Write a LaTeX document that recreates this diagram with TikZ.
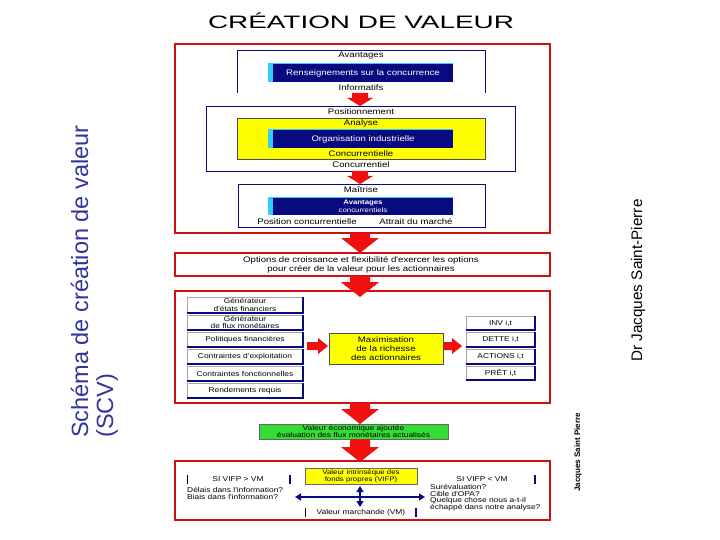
\documentclass[tikz,border=0pt]{standalone}
\usepackage{fontspec}
\setmainfont{Liberation Sans}
\newfontfamily\bxf[FakeStretch=1.2]{Liberation Sans}
\newfontfamily\ttlf[FakeStretch=1.55]{Liberation Sans}
\usetikzlibrary{arrows.meta}
\definecolor{frame}{HTML}{D01010}
\definecolor{navy}{HTML}{0A0A80}
\definecolor{arrred}{HTML}{F01010}
\definecolor{cyanb}{HTML}{33CCFF}
\definecolor{ylw}{HTML}{FFFF00}
\definecolor{grn}{HTML}{33DD33}
\definecolor{sideblue}{HTML}{3333A0}
\newcommand\smallarr[3]{\fill[arrred] ({#1-8},#2) -- ({#1+8},#2) -- ({#1+8},{#3-8}) -- ({#1+13},{#3-8}) -- (#1,#3) -- ({#1-13},{#3-8}) -- ({#1-8},{#3-8}) -- cycle;}
\newcommand\bigarr[3]{\fill[arrred] ({#1-10},#2) -- ({#1+10},#2) -- ({#1+10},{#3-15}) -- ({#1+19},{#3-15}) -- (#1,#3) -- ({#1-19},{#3-15}) -- ({#1-10},{#3-15}) -- cycle;}
\newcommand\rightarr[3]{\fill[arrred] (#1,{#3-4}) -- ({#2-10},{#3-4}) -- ({#2-10},{#3-8}) -- (#2,#3) -- ({#2-10},{#3+8}) -- ({#2-10},{#3+4}) -- (#1,{#3+4}) -- cycle;}
\newcommand\shbox[6]{%
  \draw[gray!70, line width=0.4pt, fill=white] (#2,#3) rectangle (#4,#5);
  \draw[navy, line width=1.3pt] (#2,#5) -- (#4,#5) -- (#4,#3);
  \node[txs] (#1) at ({(#2+#4)/2},{(#3+#5)/2}) {#6};}
\newcommand\navybar[4]{%
  \fill[cyanb] (268,#1) rectangle (453,#2);
  \fill[navy] (273,{#1+1.5}) rectangle (453,#2);
  \node[#3, text=white] (#4) at (363,{(#1+#2)/2+0.5})}
\begin{document}
\begin{tikzpicture}[x=1pt,y=-1pt,
  frm/.style={draw=frame, line width=1.6pt, fill=white},
  tx/.style={font=\bxf\fontsize{8}{9}\selectfont, inner sep=0pt, align=center},
  txs/.style={font=\bxf\fontsize{7}{7.4}\selectfont, inner sep=0pt, align=center},
  nbox/.style={draw=navy, line width=0.8pt, fill=white},
  narrow/.style={navy, line width=1.4pt, {Triangle[length=6pt,width=7pt]}-{Triangle[length=6pt,width=7pt]}},
  bar/.style={draw=navy, line width=0.4pt}]
\useasboundingbox (0,0) rectangle (720,540);
% title and side texts
\node[font=\ttlf\fontsize{18}{18}\selectfont, inner sep=0pt, anchor=base] (title) at (361,29) {CRÉATION DE VALEUR};
\node[rotate=90, anchor=base west, inner sep=0pt, font=\fontsize{23.5}{24}\selectfont, text=sideblue] (scv1) at (88,438) {Schéma de création de valeur};
\node[rotate=90, anchor=base west, inner sep=0pt, font=\fontsize{23.5}{24}\selectfont, text=sideblue] (scv2) at (113,438) {(SCV)};
\node[rotate=90, anchor=base west, inner sep=0pt, font=\fontsize{15.3}{16}\selectfont] (dr) at (642,362) {Dr Jacques Saint-Pierre};
\node[rotate=90, anchor=base west, inner sep=0pt, font=\bfseries\fontsize{8}{8}\selectfont] (jsp) at (580,492) {Jacques Saint Pierre};

% ---------- section 1
\draw[frm] (175,44) rectangle (550,233);
\draw[navy, line width=0.8pt, fill=white] (237,93) -- (237,50) -- (485,50) -- (485,93);
\node[tx] (avA) at (361,56) {Avantages};
\navybar{63}{82}{tx}{rens} {Renseignements sur la concurrence};
\node[tx] (info) at (361,87.5) {Informatifs};
\smallarr{360}{93}{106}
\draw[nbox] (206,106) rectangle (515,171);
\node[tx] (pos) at (361,112) {Positionnement};
\draw[fill=ylw, draw=black!70, line width=0.6pt] (237,118) rectangle (485,159);
\node[tx] (ana) at (361,123.5) {Analyse};
\navybar{129}{148}{tx}{org} {Organisation industrielle};
\node[tx] (conc1) at (361,154) {Concurrentielle};
\node[tx] (conc2) at (361,165) {Concurrentiel};
\smallarr{360}{171}{184}
\draw[nbox] (238,184) rectangle (485,227);
\node[tx] (mai) at (361,190) {Maîtrise};
\navybar{197}{215}{font=\bxf\fontsize{6.5}{7.5}\selectfont, inner sep=0pt, align=center}{avc} {\textbf{Avantages}\\concurrentiels};
\node[tx] (posc) at (307,222) {Position concurrentielle};
\node[tx] (attr) at (416,222) {Attrait du marché};

% ---------- options
\bigarr{360}{233}{253}
\node[frm, minimum width=375pt, minimum height=23pt, inner sep=0pt] (opt) at (362.5,264.5) {};
\node[tx] (optt) at (361,264.5) {Options de croissance et flexibilité d'exercer les options\\pour créer de la valeur pour les actionnaires};
\bigarr{360}{276}{297}

% ---------- section 3
\draw[frm] (175,291) rectangle (550,403);
\bigarr{360}{285}{297}
\shbox{g1}{187}{297}{303}{313}{Générateur\\d'états financiers}
\shbox{g2}{187}{315}{303}{330}{Générateur\\de flux monétaires}
\shbox{g3}{187}{332}{303}{347}{Politiques financières}
\shbox{g4}{187}{349}{303}{364}{Contraintes d'exploitation}
\shbox{g5}{187}{366}{303}{381}{Contraintes fonctionnelles}
\shbox{g6}{187}{383}{303}{398}{Rendements requis}
\rightarr{307}{328}{346}
\draw[fill=ylw, draw=black!70, line width=0.6pt] (329,333) rectangle (443,364);
\node[tx] (max) at (386,348.5) {Maximisation\\de la richesse\\des actionnaires};
\rightarr{444}{462}{346}
\shbox{d1}{466}{316}{535}{330}{INV i,t}
\shbox{d2}{466}{332}{535}{347}{DETTE i,t}
\shbox{d3}{466}{349}{535}{364}{ACTIONS i,t}
\shbox{d4}{466}{366}{535}{380}{PRÊT i,t}

% ---------- green
\bigarr{360}{403}{424}
\draw[fill=grn, draw=black!60, line width=0.6pt] (259,424) rectangle (448,439);
\node[txs] (vea) at (353.5,431.5) {Valeur économique ajoutée\\évaluation des flux monétaires actualisés};
\bigarr{360}{439}{462}

% ---------- section 5
\draw[frm] (175,461) rectangle (550,520);
\draw[fill=ylw, draw=black!60, line width=0.6pt] (305,468) rectangle (417,484);
\node[font=\bxf\fontsize{6.5}{7}\selectfont, inner sep=0pt, align=center] (vifp) at (361,476) {Valeur intrinsèque des\\fonds propres (VIFP)};
\draw[black, line width=0.6pt] (187,475) -- (187,484);
\draw[navy, line width=1.3pt] (290,475) -- (290,484);
\node[txs] (sig) at (238,479.5) {SI VIFP > VM};
\draw[navy, line width=1.3pt] (535,475) -- (535,484);
\node[txs] (sid) at (482,479.5) {SI VIFP < VM};
\node[txs, anchor=west, align=left] (dl) at (187,493.5) {Délais dans l'information?\\Biais dans l'information?};
\node[txs, anchor=west, align=left, font=\bxf\fontsize{7}{6.3}\selectfont] (sr) at (430,498) {Surévaluation?\\Cible d'OPA?\\Quelque chose nous a-t-il\\échappé dans notre analyse?};
\coordinate (hl) at (295,497);
\coordinate (hr) at (425,497);
\coordinate (vt) at (360,486);
\coordinate (vb) at (360,507);
\draw[narrow] (hl) -- (hr);
\draw[narrow] (vt) -- (vb);
\draw[black, line width=0.6pt] (305,508) -- (305,517);
\draw[navy, line width=1.3pt] (416,508) -- (416,517);
\node[txs] (vm) at (361,512.5) {Valeur marchande (VM)};
\end{tikzpicture}
\end{document}
